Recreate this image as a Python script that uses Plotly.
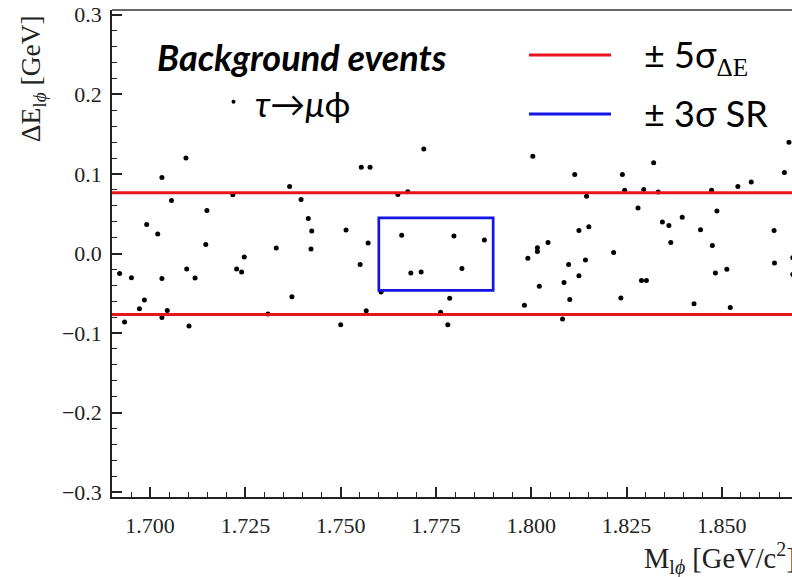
import plotly.graph_objects as go

# Background events (M_lphi [GeV/c^2], Delta E [GeV])
m_vals = [1.6920, 1.6933, 1.6951, 1.6972, 1.6985, 1.6991, 1.7020, 1.7031, 1.7031, 1.7031,
          1.7045, 1.7056, 1.7094, 1.7096, 1.7102, 1.7118, 1.7146, 1.7149, 1.7217, 1.7227,
          1.7240, 1.7247, 1.7309, 1.7331, 1.7366, 1.7372, 1.7396, 1.7415, 1.7424, 1.7422,
          1.7500, 1.7514, 1.7551, 1.7554, 1.7567, 1.7572, 1.7577, 1.7606, 1.7650, 1.7676,
          1.7660, 1.7684, 1.7711, 1.7718, 1.7762, 1.7781, 1.7786, 1.7797, 1.7818, 1.7877,
          1.7982, 1.7991, 1.8004, 1.8016, 1.8016, 1.8021, 1.8044, 1.8082, 1.8086, 1.8098,
          1.8101, 1.8114, 1.8125, 1.8125, 1.8142, 1.8145, 1.8151, 1.8216, 1.8235, 1.8239,
          1.8245, 1.8280, 1.8289, 1.8302, 1.8295, 1.8321, 1.8333, 1.8344, 1.8361, 1.8366,
          1.8396, 1.8427, 1.8444, 1.8473, 1.8475, 1.8483, 1.8487, 1.8513, 1.8522, 1.8542,
          1.8577, 1.8637, 1.8638, 1.8664, 1.8676, 1.8686, 1.8686]
de_vals = [-0.0251, -0.0860, -0.0304, -0.0694, -0.0583, 0.0364, 0.0246, 0.0956, -0.0314, -0.0804,
           -0.0716, 0.0667, 0.1200, -0.0194, -0.0910, -0.0307, 0.0114, 0.0540, 0.0739, -0.0194,
           -0.0231, -0.0043, -0.0759, 0.0070, 0.0842, -0.0545, 0.0679, 0.0440, 0.0283, 0.0058,
           -0.0895, 0.0295, -0.0138, 0.1084, -0.0719, 0.0133, 0.1084, -0.0483, 0.0743, 0.0777,
           0.0230, -0.0244, -0.0231, 0.1313, -0.0738, -0.0895, -0.0562, 0.0220, -0.0188, 0.0170,
           -0.0650, -0.0060, 0.1223, 0.0073, 0.0025, -0.0411, 0.0138, -0.0822, -0.0364, -0.0137,
           -0.0579, 0.0993, 0.0289, -0.0281, -0.0082, 0.0718, 0.0337, 0.0014, -0.0558, 0.0993,
           0.0794, 0.0572, -0.0339, -0.0339, 0.0804, 0.1141, 0.0774, 0.0397, 0.0352, 0.0139,
           0.0456, -0.0633, 0.0297, 0.0795, 0.0101, -0.0244, 0.0535, -0.0197, -0.0679, 0.0843,
           0.0898, 0.0289, -0.0118, 0.1018, 0.1399, -0.0053, -0.0264]

band_5sigma = [-0.0765, 0.0765]      # +-5 sigma_DeltaE
sr_m = [1.760, 1.790]                # +-3 sigma SR in M
sr_de = [-0.0463, 0.0447]            # +-3 sigma SR in DeltaE

x_range = [1.690, 1.8684]
y_range = [-0.306, 0.306]

RED = "#e8141c"
BLUE = "#1414e6"
AX = "#222222"
SERIF = "Liberation Serif, DejaVu Serif, serif"

fig = go.Figure()
fig.add_trace(go.Scatter(x=m_vals, y=de_vals, mode="markers",
                         marker=dict(color="black", size=5), showlegend=False))

shapes = []
for v in band_5sigma:
    shapes.append(dict(type="line", xref="paper", yref="y", x0=0, x1=1, y0=v, y1=v,
                       line=dict(color=RED, width=3)))
shapes.append(dict(type="rect", xref="x", yref="y", x0=sr_m[0], x1=sr_m[1],
                   y0=sr_de[0], y1=sr_de[1], line=dict(color=BLUE, width=2.7)))
# top frame line
shapes.append(dict(type="line", xref="paper", yref="paper", x0=0, x1=1, y0=1, y1=1,
                   line=dict(color="#333333", width=1.5)))
# legend keys
shapes.append(dict(type="line", xref="paper", yref="paper", x0=0.6132, x1=0.7338,
                   y0=0.9076, y1=0.9076, line=dict(color=RED, width=3.2)))
shapes.append(dict(type="line", xref="paper", yref="paper", x0=0.6132, x1=0.7338,
                   y0=0.7864, y1=0.7864, line=dict(color=BLUE, width=3.2)))
shapes.append(dict(type="circle", xref="paper", yref="paper", xsizemode="pixel", ysizemode="pixel",
                   xanchor=0.1787, yanchor=0.8117, x0=-2, x1=2, y0=-2, y1=2,
                   fillcolor="black", line=dict(color="black", width=0)))

annotations = [
    dict(text="<b><i>Background events</i></b>", xref="paper", yref="paper", x=0.2794, y=0.903,
         xanchor="center", yanchor="middle", showarrow=False,
         font=dict(family="Lato", size=36, color="black")),
    dict(text="<i>τ</i>→<i>μ</i>ϕ", xref="paper", yref="paper", x=0.2074, y=0.809,
         xanchor="left", yanchor="middle", showarrow=False,
         font=dict(family="Lato", size=35, color="black")),
    dict(text="± 5σ<sub><span style=\"font-family:'Liberation Serif'\">ΔE</span></sub>",
         xref="paper", yref="paper", x=0.7794, y=0.905,
         xanchor="left", yanchor="middle", showarrow=False,
         font=dict(family="Lato", size=36, color="black")),
    dict(text="± 3σ SR", xref="paper", yref="paper", x=0.7794, y=0.789,
         xanchor="left", yanchor="middle", showarrow=False,
         font=dict(family="Lato", size=36, color="black")),
    dict(text="ΔE<sub>l<i>ϕ</i></sub> [GeV]", xref="paper", yref="paper", x=-0.1176, y=0.858,
         xanchor="center", yanchor="middle", textangle=-90, showarrow=False,
         font=dict(family=SERIF, size=27.5, color="#222")),
    dict(text="M<sub>l<i>ϕ</i></sub> [GeV/c<sup>2</sup>]", xref="paper", yref="paper",
         x=0.7794, y=-0.1273, xanchor="left", yanchor="middle", showarrow=False,
         font=dict(family=SERIF, size=28.5, color="#222")),
]

fig.update_layout(
    width=792, height=577,
    margin=dict(l=112, r=0, t=10, b=80),
    paper_bgcolor="white", plot_bgcolor="white",
    font=dict(family=SERIF, size=21, color="#222"),
    shapes=shapes, annotations=annotations,
    xaxis=dict(range=x_range, showline=True, linecolor=AX, linewidth=1.5, mirror=False,
               ticks="inside", ticklen=10, tickwidth=1.5, tickcolor=AX,
               tick0=1.7, dtick=0.025, tickformat=".3f", showgrid=False, zeroline=False,
               tickfont=dict(family=SERIF, size=22, color="#222"),
               ticklabelstandoff=8,
               minor=dict(ticks="inside", ticklen=5, tickwidth=1.2, tickcolor=AX,
                          dtick=0.005, showgrid=False)),
    yaxis=dict(range=y_range, showline=True, linecolor=AX, linewidth=1.5, mirror=False,
               ticks="inside", ticklen=10, tickwidth=1.5, tickcolor=AX,
               tick0=0, dtick=0.1, tickformat=".1f", showgrid=False, zeroline=False,
               tickfont=dict(family=SERIF, size=22, color="#222"),
               ticklabelstandoff=4,
               minor=dict(ticks="inside", ticklen=5, tickwidth=1.2, tickcolor=AX,
                          dtick=0.02, showgrid=False)),
)

fig.write_html("out.html")
